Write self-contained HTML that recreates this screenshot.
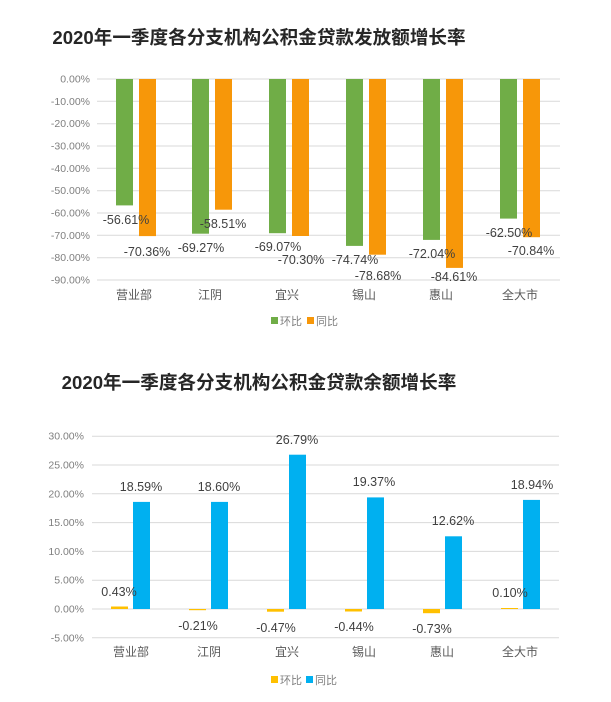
<!DOCTYPE html>
<html><head><meta charset="utf-8"><style>
html,body{margin:0;padding:0;background:#fff;}
svg{display:block;font-family:"Liberation Sans","Noto Sans CJK SC",sans-serif;}
.t{font-size:18.6px;font-weight:bold;fill:#262626;text-anchor:middle;}
.y{font-size:10.5px;fill:#7f7f7f;text-anchor:end;}
.c{font-size:12px;fill:#595959;text-anchor:middle;}
.v{font-size:12.5px;fill:#404040;text-anchor:middle;}
.l{font-size:11px;fill:#7f7f7f;}
.g line{stroke:#d9d9d9;stroke-width:1;}
</style></head><body>
<svg width="611" height="702" viewBox="0 0 611 702">
<rect width="611" height="702" fill="#fff"/>
<text class="t" x="259" y="44">2020年一季度各分支机构公积金贷款发放额增长率</text>
<g class="g">
<line x1="97" x2="560" y1="79" y2="79"/><line x1="97" x2="560" y1="101.3" y2="101.3"/><line x1="97" x2="560" y1="123.7" y2="123.7"/><line x1="97" x2="560" y1="146" y2="146"/><line x1="97" x2="560" y1="168.3" y2="168.3"/><line x1="97" x2="560" y1="190.7" y2="190.7"/><line x1="97" x2="560" y1="213" y2="213"/><line x1="97" x2="560" y1="235.3" y2="235.3"/><line x1="97" x2="560" y1="257.7" y2="257.7"/><line x1="97" x2="560" y1="280" y2="280"/>
</g>
<g>
<text class="y" x="90" y="82.5">0.00%</text><text class="y" x="90" y="104.8">-10.00%</text><text class="y" x="90" y="127.2">-20.00%</text><text class="y" x="90" y="149.5">-30.00%</text><text class="y" x="90" y="171.8">-40.00%</text><text class="y" x="90" y="194.2">-50.00%</text><text class="y" x="90" y="216.5">-60.00%</text><text class="y" x="90" y="238.8">-70.00%</text><text class="y" x="90" y="261.2">-80.00%</text><text class="y" x="90" y="283.5">-90.00%</text>
</g>
<g fill="#70ad47">
<rect x="116" y="79" width="17" height="126.4"/><rect x="192" y="79" width="17" height="154.7"/><rect x="269" y="79" width="17" height="154.2"/><rect x="346" y="79" width="17" height="166.9"/><rect x="423" y="79" width="17" height="160.9"/><rect x="500" y="79" width="17" height="139.6"/>
</g>
<g fill="#f79709">
<rect x="139" y="79" width="17" height="157.1"/><rect x="215" y="79" width="17" height="130.7"/><rect x="292" y="79" width="17" height="157"/><rect x="369" y="79" width="17" height="175.7"/><rect x="446" y="79" width="17" height="188.9"/><rect x="523" y="79" width="17" height="158.2"/>
</g>
<g>
<text class="v" x="126" y="224">-56.61%</text><text class="v" x="147" y="256">-70.36%</text>
<text class="v" x="201" y="252">-69.27%</text><text class="v" x="223" y="228">-58.51%</text>
<text class="v" x="278" y="251">-69.07%</text><text class="v" x="301" y="264">-70.30%</text>
<text class="v" x="355" y="264">-74.74%</text><text class="v" x="378" y="280">-78.68%</text>
<text class="v" x="432" y="258">-72.04%</text><text class="v" x="454" y="281">-84.61%</text>
<text class="v" x="509" y="237">-62.50%</text><text class="v" x="531" y="255">-70.84%</text>
</g>
<g>
<text class="c" x="134" y="299">营业部</text><text class="c" x="210" y="299">江阴</text><text class="c" x="287" y="299">宜兴</text><text class="c" x="364" y="299">锡山</text><text class="c" x="441" y="299">惠山</text><text class="c" x="520" y="299">全大市</text>
</g>
<rect x="271" y="317" width="7" height="7" fill="#70ad47"/><text class="l" x="280" y="325">环比</text>
<rect x="307" y="317" width="7" height="7" fill="#f79709"/><text class="l" x="316" y="325">同比</text>

<text class="t" x="259" y="389">2020年一季度各分支机构公积金贷款余额增长率</text>
<g class="g">
<line x1="92" x2="559" y1="436.2" y2="436.2"/><line x1="92" x2="559" y1="465" y2="465"/><line x1="92" x2="559" y1="493.8" y2="493.8"/><line x1="92" x2="559" y1="522.6" y2="522.6"/><line x1="92" x2="559" y1="551.4" y2="551.4"/><line x1="92" x2="559" y1="580.2" y2="580.2"/><line x1="92" x2="559" y1="609" y2="609"/><line x1="92" x2="559" y1="637.8" y2="637.8"/>
</g>
<g>
<text class="y" x="84" y="439.7">30.00%</text><text class="y" x="84" y="468.5">25.00%</text><text class="y" x="84" y="497.3">20.00%</text><text class="y" x="84" y="526.1">15.00%</text><text class="y" x="84" y="554.9">10.00%</text><text class="y" x="84" y="583.7">5.00%</text><text class="y" x="84" y="612.5">0.00%</text><text class="y" x="84" y="641.3">-5.00%</text>
</g>
<g fill="#00b0f0">
<rect x="133" y="501.9" width="17" height="107.1"/><rect x="211" y="501.9" width="17" height="107.1"/><rect x="289" y="454.7" width="17" height="154.3"/><rect x="367" y="497.4" width="17" height="111.6"/><rect x="445" y="536.3" width="17" height="72.7"/><rect x="523" y="499.9" width="17" height="109.1"/>
</g>
<g fill="#ffc000">
<rect x="111" y="606.5" width="17" height="2.5"/><rect x="189" y="609" width="17" height="1.2"/><rect x="267" y="609" width="17" height="2.7"/><rect x="345" y="609" width="17" height="2.5"/><rect x="423" y="609" width="17" height="4.2"/><rect x="501" y="608" width="17" height="1"/>
</g>
<g>
<text class="v" x="141" y="491">18.59%</text><text class="v" x="219" y="491">18.60%</text><text class="v" x="297" y="444">26.79%</text><text class="v" x="374" y="486">19.37%</text><text class="v" x="453" y="525">12.62%</text><text class="v" x="532" y="489">18.94%</text>
<text class="v" x="119" y="596">0.43%</text><text class="v" x="198" y="630">-0.21%</text><text class="v" x="276" y="632">-0.47%</text><text class="v" x="354" y="631">-0.44%</text><text class="v" x="432" y="633">-0.73%</text><text class="v" x="510" y="597">0.10%</text>
</g>
<g>
<text class="c" x="131" y="656">营业部</text><text class="c" x="209" y="656">江阴</text><text class="c" x="287" y="656">宜兴</text><text class="c" x="364" y="656">锡山</text><text class="c" x="442" y="656">惠山</text><text class="c" x="520" y="656">全大市</text>
</g>
<rect x="271" y="676" width="7" height="7" fill="#ffc000"/><text class="l" x="280" y="684">环比</text>
<rect x="306" y="676" width="7" height="7" fill="#00b0f0"/><text class="l" x="315" y="684">同比</text>
</svg>
</body></html>
